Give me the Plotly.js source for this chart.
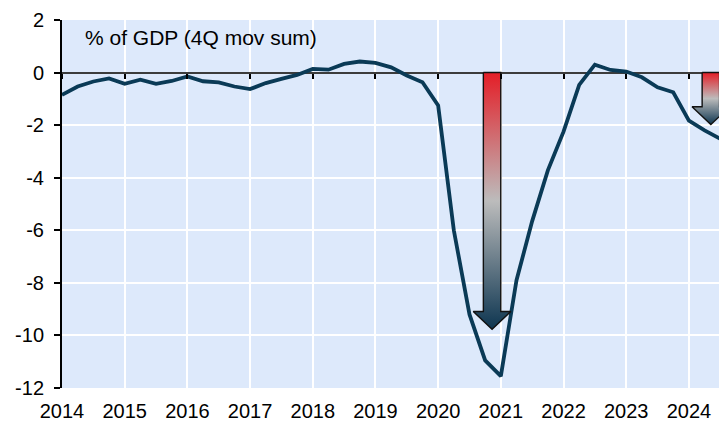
<!DOCTYPE html>
<html>
<head>
<meta charset="utf-8">
<script src="https://cdn.plot.ly/plotly-3.0.1.min.js"></script>
<style>html,body{margin:0;padding:0;background:#fff;}#chart{width:719px;height:426px;}</style>
</head>
<body>
<div id="chart"></div>
<script>
// Quarterly observations (year fraction)
const quarters = [
  2014.00, 2014.25, 2014.50, 2014.75,
  2015.00, 2015.25, 2015.50, 2015.75,
  2016.00, 2016.25, 2016.50, 2016.75,
  2017.00, 2017.25, 2017.50, 2017.75,
  2018.00, 2018.25, 2018.50, 2018.75,
  2019.00, 2019.25, 2019.50, 2019.75,
  2020.00, 2020.25, 2020.50, 2020.75,
  2021.00, 2021.25, 2021.50, 2021.75,
  2022.00, 2022.25, 2022.50, 2022.75,
  2023.00, 2023.25, 2023.50, 2023.75,
  2024.00, 2024.25, 2024.50
];
// % of GDP (4Q moving sum)
const values = [
  -0.85, -0.53, -0.34, -0.22,
  -0.43, -0.27, -0.43, -0.32,
  -0.15, -0.33, -0.37, -0.53,
  -0.63, -0.40, -0.24, -0.09,
   0.14,  0.11,  0.33,  0.42,
   0.37,  0.20, -0.11, -0.37,
  -1.25, -6.00, -9.20, -10.95,
  -11.55, -7.90, -5.65, -3.72,
  -2.25, -0.47,  0.30,  0.10,
   0.04, -0.18, -0.56, -0.75,
  -1.83, -2.20, -2.52
];
// Highlight arrows: centre (year) and end value
const arrowCentres = [2020.86, 2024.35];
const arrowEnds = [-9.77, -1.98];

const xTickVals = [2014, 2015, 2016, 2017, 2018, 2019, 2020, 2021, 2022, 2023, 2024];
const xTickText = ['2014', '2015', '2016', '2017', '2018', '2019', '2020', '2021', '2022', '2023', '2024'];
const yTickVals = [2, 0, -2, -4, -6, -8, -10, -12];
const yTickText = ['2', '0', '-2', '-4', '-6', '-8', '-10', '-12'];
const annotationText = '% of GDP (4Q mov sum)';

const SHAFT_HALF = 0.139, HEAD_HALF = 0.30, HEAD_LEN = 0.68;
const FONT = 'Liberation Sans, Arial, sans-serif';

const traces = [{
  x: quarters, y: values, type: 'scatter', mode: 'lines',
  line: {color: '#0a3a56', width: 3.8},
  hoverinfo: 'skip', showlegend: false, cliponaxis: true
}];

arrowCentres.forEach((c, i) => {
  const e = arrowEnds[i];
  const h = e + HEAD_LEN;
  traces.push({
    x: [c - SHAFT_HALF, c + SHAFT_HALF, c + SHAFT_HALF, c + HEAD_HALF, c, c - HEAD_HALF, c - SHAFT_HALF, c - SHAFT_HALF],
    y: [0, 0, h, h, e, h, h, 0],
    xaxis: 'x2', yaxis: 'y',
    type: 'scatter', mode: 'lines', fill: 'toself',
    fillcolor: '#888',
    fillgradient: {
      type: 'vertical',
      colorscale: [[0, '#0d3550'], [0.5, '#bcbcbc'], [1, '#e41e27']],
      start: e, stop: 0
    },
    line: {color: '#111', width: 1.4},
    hoverinfo: 'skip', showlegend: false
  });
});

const yMin = -12, yMax = 2;
const xRange = [2014, 2024.48];

const layout = {
  width: 719, height: 426,
  margin: {l: 62, r: 0, t: 20, b: 38, pad: 0},
  paper_bgcolor: '#ffffff',
  plot_bgcolor: '#dde9fb',
  showlegend: false,
  font: {family: FONT, size: 20, color: '#000'},
  xaxis: {
    range: xRange, tickvals: xTickVals, ticktext: xTickText,
    showgrid: true, gridcolor: '#ffffff', gridwidth: 2,
    zeroline: false, showline: false,
    ticks: 'outside', ticklen: 5, tickcolor: 'rgba(0,0,0,0)',
    tickfont: {family: FONT, size: 20, color: '#000'},
    fixedrange: true
  },
  xaxis2: {
    range: xRange, overlaying: 'x', anchor: 'free',
    position: (0 - yMin) / (yMax - yMin),
    tickvals: xTickVals, showticklabels: false,
    ticks: 'outside', ticklen: 5, tickwidth: 2, tickcolor: '#000',
    showgrid: false, zeroline: false, showline: false, fixedrange: true
  },
  yaxis: {
    range: [yMin, yMax], tickvals: yTickVals, ticktext: yTickText,
    showgrid: true, gridcolor: '#ffffff', gridwidth: 2,
    zeroline: true, zerolinecolor: '#3c3c3c', zerolinewidth: 2,
    showline: true, linecolor: '#000', linewidth: 2,
    ticks: 'outside', ticklen: 6, tickwidth: 2, tickcolor: '#000',
    tickfont: {family: FONT, size: 20, color: '#000'},
    ticklabelstandoff: 6, fixedrange: true
  },
  annotations: [{
    text: annotationText, xref: 'paper', yref: 'paper',
    x: 0.032, y: 0.99, xanchor: 'left', yanchor: 'top',
    showarrow: false, font: {family: FONT, size: 21, color: '#000'}
  }]
};

Plotly.newPlot('chart', traces, layout, {displayModeBar: false, staticPlot: true});
</script>
</body>
</html>
